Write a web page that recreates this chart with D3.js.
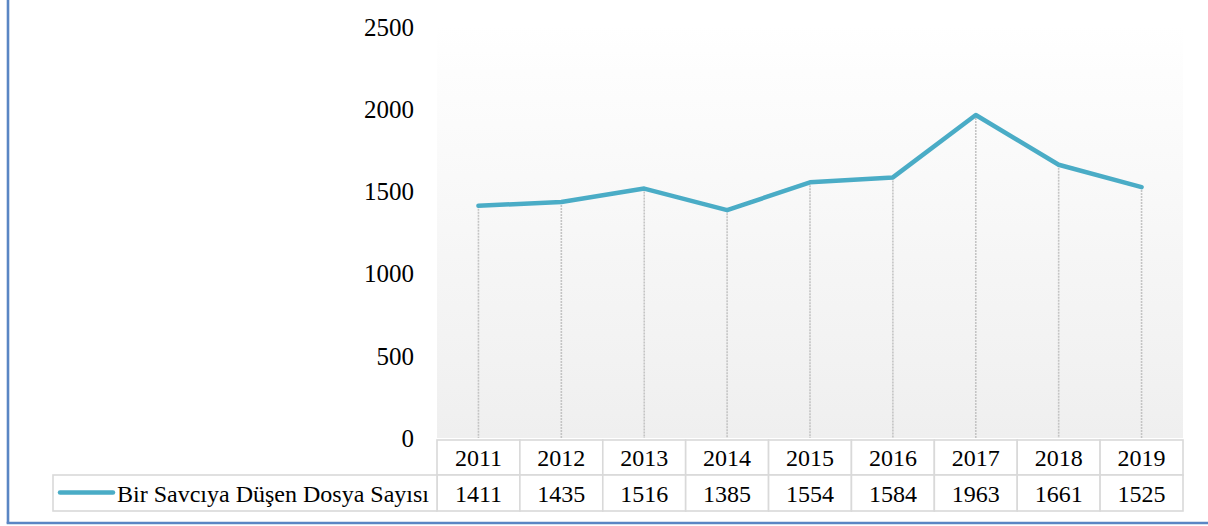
<!DOCTYPE html>
<html><head><meta charset="utf-8">
<script src="https://cdn.jsdelivr.net/npm/d3@7"></script>
<style>html,body{margin:0;padding:0;background:#fff;}svg{display:block;}</style>
</head><body>
<svg id="c" width="1208" height="526"></svg>
<script>
const years = ["2011","2012","2013","2014","2015","2016","2017","2018","2019"];
const values = [1411,1435,1516,1385,1554,1584,1963,1661,1525];
const yTicks = [0,500,1000,1500,2000,2500];
const seriesName = "Bir Savcıya Düşen Dosya Sayısı";

const svg = d3.select("#c");
const W = 1208, H = 526;
const pLeft = 437, pRight = 1183, pTop = 26.7, pBottom = 438;
const FONT = '"Liberation Serif", "Times New Roman", Tinos, serif';

const x = d3.scaleBand().domain(years).range([pLeft, pRight]).padding(0);
const y = d3.scaleLinear().domain([0, 2500]).range([pBottom, pTop]);

// frame
svg.append("line").attr("x1",8).attr("x2",8).attr("y1",0).attr("y2",523.5)
  .attr("stroke","#5a86c4").attr("stroke-width",2.6);
svg.append("line").attr("x1",6.7).attr("x2",W).attr("y1",523).attr("y2",523)
  .attr("stroke","#5a86c4").attr("stroke-width",2.6);

// plot area gradient
const defs = svg.append("defs");
const g = defs.append("linearGradient").attr("id","pg").attr("x1",0).attr("x2",0).attr("y1",0).attr("y2",1);
g.append("stop").attr("offset","0").attr("stop-color","#ffffff");
g.append("stop").attr("offset","0.11").attr("stop-color","#fdfdfd");
g.append("stop").attr("offset","1").attr("stop-color","#efefef");
svg.append("rect").attr("x",pLeft).attr("y",pTop).attr("width",pRight-pLeft).attr("height",pBottom-pTop)
  .attr("fill","url(#pg)");

// y axis labels
const yAxis = d3.axisLeft(y).tickValues(yTicks).tickFormat(d3.format("d")).tickSize(0).tickPadding(0);
const ya = svg.append("g").attr("transform",`translate(414,0)`).call(yAxis);
ya.attr("font-family", null);
ya.select(".domain").remove();
ya.selectAll("text").style("font-family",FONT).style("font-size","25px").attr("fill","#000").attr("dy","0.34em");

// drop lines
svg.append("g").selectAll("line").data(values).join("line")
  .attr("x1",(d,i)=>x(years[i])+x.bandwidth()/2)
  .attr("x2",(d,i)=>x(years[i])+x.bandwidth()/2)
  .attr("y1",d=>y(d)).attr("y2",pBottom)
  .attr("stroke","#c4c4c4").attr("stroke-width",1.6).attr("stroke-dasharray","2,1");

// line
const line = d3.line().x((d,i)=>x(years[i])+x.bandwidth()/2).y(d=>y(d));
svg.append("path").datum(values).attr("d",line).attr("fill","none")
  .attr("stroke","#4aacc6").attr("stroke-width",4.5).attr("stroke-linejoin","round").attr("stroke-linecap","round");

// data table
const row1 = [440, 475], row2 = [475, 511];
const tbl = svg.append("g");
const gridColor = "#d9d9d9";
tbl.selectAll("rect.h").data(years).join("rect").attr("class","h")
  .attr("x",d=>x(d)).attr("y",row1[0]).attr("width",x.bandwidth()).attr("height",row1[1]-row1[0])
  .attr("fill","#fff").attr("stroke",gridColor).attr("stroke-width",1.6);
tbl.selectAll("rect.v").data(years).join("rect").attr("class","v")
  .attr("x",d=>x(d)).attr("y",row2[0]).attr("width",x.bandwidth()).attr("height",row2[1]-row2[0])
  .attr("fill","#fff").attr("stroke",gridColor).attr("stroke-width",1.6);
tbl.append("rect").attr("x",53).attr("y",row2[0]).attr("width",pLeft-53).attr("height",row2[1]-row2[0])
  .attr("fill","#fff").attr("stroke",gridColor).attr("stroke-width",1.6);
tbl.selectAll("text.h").data(years).join("text").attr("class","h")
  .attr("x",d=>x(d)+x.bandwidth()/2).attr("y",466).attr("text-anchor","middle")
  .style("font-family",FONT).style("font-size","24px").attr("fill","#000").text(d=>d);
tbl.selectAll("text.v").data(values).join("text").attr("class","v")
  .attr("x",(d,i)=>x(years[i])+x.bandwidth()/2).attr("y",501.5).attr("text-anchor","middle")
  .style("font-family",FONT).style("font-size","24px").attr("fill","#000").text(d=>d);
// legend key
tbl.append("line").attr("x1",60).attr("x2",113).attr("y1",492.5).attr("y2",492.5)
  .attr("stroke","#4aacc6").attr("stroke-width",4.5).attr("stroke-linecap","round");
tbl.append("text").attr("x",117).attr("y",501.5)
  .style("font-family",FONT).style("font-size","24px").attr("fill","#000")
  .text(seriesName);
</script>
</body></html>
